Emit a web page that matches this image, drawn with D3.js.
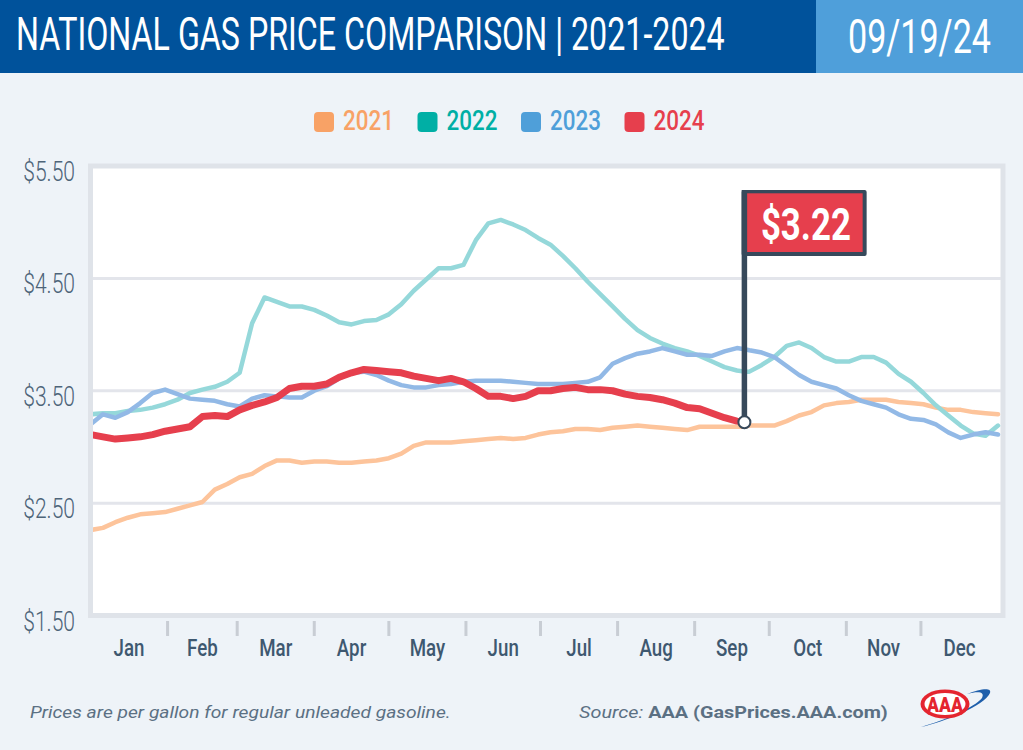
<!DOCTYPE html>
<html><head><meta charset="utf-8">
<script src="https://cdn.jsdelivr.net/npm/d3@7"></script>
<style>body{margin:0;background:#eef3f8;} svg{display:block}</style>
</head><body><svg id="chart" width="1023" height="750"></svg>
<script>
// ---- data ----
const days = [0,5,10,15,20,25,30,35,40,45,50,55,60,65,70,75,80,85,90,95,100,105,110,115,120,125,130,135,140,145,150,155,160,165,170,175,180,185,190,195,200,205,210,215,220,225,230,235,240,245,250,255,260,263,265,270,275,280,285,290,295,300,305,310,315,320,325,330,335,340,345,350,355,360,365];
const prices2021 = [2.26,2.28,2.33,2.37,2.40,2.41,2.42,2.45,2.48,2.51,2.62,2.67,2.73,2.76,2.83,2.88,2.88,2.86,2.87,2.87,2.86,2.86,2.87,2.88,2.90,2.94,3.01,3.04,3.04,3.04,3.05,3.06,3.07,3.08,3.07,3.08,3.11,3.13,3.14,3.16,3.16,3.15,3.17,3.18,3.19,3.18,3.17,3.16,3.15,3.18,3.18,3.18,3.18,3.18,3.19,3.19,3.19,3.23,3.28,3.31,3.37,3.39,3.40,3.42,3.42,3.42,3.40,3.39,3.38,3.35,3.33,3.33,3.31,3.30,3.29];
const prices2022 = [3.29,3.30,3.30,3.32,3.33,3.35,3.38,3.42,3.48,3.51,3.535,3.58,3.66,4.10,4.33,4.29,4.25,4.25,4.22,4.17,4.11,4.09,4.12,4.13,4.18,4.27,4.39,4.49,4.59,4.59,4.62,4.84,4.99,5.02,4.98,4.93,4.86,4.80,4.70,4.59,4.47,4.36,4.25,4.14,4.04,3.97,3.92,3.88,3.85,3.81,3.76,3.71,3.68,3.67,3.67,3.73,3.80,3.90,3.93,3.88,3.80,3.76,3.76,3.80,3.80,3.75,3.65,3.58,3.48,3.37,3.28,3.19,3.12,3.10,3.19];
const prices2023 = [3.20,3.29,3.26,3.31,3.39,3.48,3.51,3.47,3.43,3.42,3.41,3.38,3.36,3.43,3.46,3.45,3.44,3.44,3.50,3.54,3.61,3.66,3.67,3.64,3.59,3.55,3.53,3.53,3.55,3.56,3.58,3.59,3.59,3.59,3.58,3.57,3.56,3.56,3.56,3.57,3.58,3.62,3.74,3.79,3.83,3.85,3.88,3.85,3.82,3.82,3.81,3.85,3.88,3.87,3.86,3.84,3.80,3.72,3.64,3.58,3.55,3.52,3.46,3.41,3.38,3.35,3.29,3.25,3.24,3.20,3.13,3.08,3.11,3.13,3.11];
const prices2024 = [3.11,3.09,3.07,3.08,3.09,3.11,3.14,3.16,3.18,3.27,3.28,3.27,3.33,3.37,3.40,3.44,3.52,3.54,3.54,3.56,3.62,3.66,3.69,3.68,3.67,3.66,3.63,3.61,3.59,3.61,3.58,3.52,3.45,3.45,3.43,3.45,3.50,3.50,3.52,3.53,3.51,3.51,3.50,3.47,3.45,3.44,3.42,3.39,3.35,3.34,3.30,3.26,3.23,3.22,null,null,null,null,null,null,null,null,null,null,null,null,null,null,null,null,null,null,null,null,null];
const years = ["2021","2022","2023","2024"];
const yTicks = [1.5,2.5,3.5,4.5,5.5];
const yTickLabels = ["$1.50","$2.50","$3.50","$4.50","$5.50"];
const monthNames = ["Jan","Feb","Mar","Apr","May","Jun","Jul","Aug","Sep","Oct","Nov","Dec"];
const monthStarts = [0,31,59,90,120,151,181,212,243,273,304,334,365];
const latestDay = 263;
const latestPrice = 3.22;
const latestLabel = "$3.22";
const titleText = "NATIONAL GAS PRICE COMPARISON | 2021-2024";
const dateText = "09/19/24";

// ---- styles ----
const lineColors = ["#fdc49b","#95d8da","#92b9e6","#e63f4d"];
const legendColors = ["#f8a266","#00afa5","#4f9fd9","#e63f4d"];
const lineWidths = [4.5,4.5,4.5,7];
const font = "Roboto, 'Open Sans', sans-serif";

const svg = d3.select("#chart");
const x = d3.scaleLinear().domain([0,365]).range([90.5,998]);
const y = d3.scaleLinear().domain([1.5,5.5]).range([615.5,166]);

// text squeezed horizontally to a target width via transform (condensed look)
function fitText(parent, str, tx, ty, width, attrs){
  const t = parent.append("text").attr("x",0).attr("y",0).attr("font-family",font);
  Object.entries(attrs||{}).forEach(([k,v])=>t.attr(k,v));
  if (typeof str === "function") str(t); else t.text(str);
  const w = t.node().getComputedTextLength();
  t.attr("transform",`translate(${tx},${ty}) scale(${width/w},1)`);
  return t;
}

svg.append("rect").attr("width",1023).attr("height",750).attr("fill","#eef3f8");

// header
svg.append("rect").attr("x",0).attr("y",0).attr("width",1023).attr("height",73).attr("fill","#00529b");
svg.append("rect").attr("x",816).attr("y",0).attr("width",207).attr("height",73).attr("fill","#4f9fda");
fitText(svg, titleText, 16, 50, 709, {"font-size":46,"font-weight":400,"fill":"#fff"});
fitText(svg, dateText, 848, 53, 143, {"font-size":49,"font-weight":400,"fill":"#fff"});

// legend
const lg = svg.append("g");
years.forEach((yr,i)=>{
  const lx = 314 + i*103.5;
  lg.append("rect").attr("x",lx).attr("y",112).attr("width",20).attr("height",20).attr("rx",4).attr("fill",legendColors[i]);
  fitText(lg, yr, lx+29, 130, 51, {"font-size":28,"font-weight":500,"fill":legendColors[i]});
});

// plot frame
svg.append("rect").attr("x",90.5).attr("y",y(5.5)).attr("width",912.5).attr("height",y(1.5)-y(5.5))
  .attr("fill","#fff").attr("stroke","#dfe3e9").attr("stroke-width",5);

// gridlines
svg.append("g").selectAll("line").data(yTicks.slice(1,-1)).join("line")
  .attr("x1",93).attr("x2",1001).attr("y1",d=>y(d)).attr("y2",d=>y(d))
  .attr("stroke","#e3e5eb").attr("stroke-width",3);

// y labels
svg.append("g").selectAll("text").data(yTicks).join("text")
  .attr("transform",d=>`translate(75,${y(d)+15}) scale(0.78,1)`)
  .attr("text-anchor","end").attr("font-family",font).attr("font-size",27).attr("font-weight",300)
  .attr("fill","#4d6478").text((d,i)=>yTickLabels[i]);

// x ticks
svg.append("g").selectAll("line").data(monthStarts.slice(1,-1)).join("line")
  .attr("x1",d=>x(d)).attr("x2",d=>x(d)).attr("y1",621).attr("y2",636)
  .attr("stroke","#c8cdd4").attr("stroke-width",3);
svg.append("g").selectAll("text").data(monthNames).join("text")
  .attr("transform",(d,i)=>`translate(${x((monthStarts[i]+monthStarts[i+1])/2)},656) scale(0.78,1)`)
  .attr("text-anchor","middle").attr("font-family",font).attr("font-size",24).attr("font-weight",500)
  .attr("fill","#3e5870").text(d=>d);

// lines
svg.append("clipPath").attr("id","clip").append("rect").attr("x",93).attr("y",168).attr("width",908).attr("height",445);
const seriesData = [prices2021,prices2022,prices2023,prices2024];
const line = d3.line().defined(d=>d.v!=null).x(d=>x(d.day)).y(d=>y(d.v));
const lineG = svg.append("g").attr("clip-path","url(#clip)");
seriesData.forEach((arr,i)=>{
  const pts = days.map((d,j)=>({day:d,v:arr[j]}));
  lineG.append("path").datum(pts).attr("d",line).attr("fill","none")
    .attr("stroke",lineColors[i]).attr("stroke-width",lineWidths[i])
    .attr("stroke-linejoin","round").attr("stroke-linecap","round");
});

// flag
const px = x(latestDay), py = y(latestPrice);
const flag = svg.append("g");
flag.append("rect").attr("x",px-2.75).attr("y",190).attr("width",5.5).attr("height",py-190).attr("fill","#37495b");
flag.append("rect").attr("x",px-2.75).attr("y",190).attr("width",125).attr("height",66).attr("rx",2).attr("fill","#37495b");
flag.append("rect").attr("x",px+2.75).attr("y",193.3).attr("width",115.5).attr("height",58.7).attr("fill","#e63f4d");
fitText(flag, latestLabel, px+16.5, 240, 90, {"font-size":45,"font-weight":700,"fill":"#fff"});
flag.append("circle").attr("cx",px).attr("cy",py).attr("r",6).attr("fill","#fff").attr("stroke","#37495b").attr("stroke-width",2);

// footer
fitText(svg, "Prices are per gallon for regular unleaded gasoline.", 30, 718, 421,
  {"font-size":17,"font-style":"italic","fill":"#5b7083"});
fitText(svg, t=>{
  t.append("tspan").attr("font-style","italic").text("Source: ");
  t.append("tspan").attr("font-weight",700).text("AAA (GasPrices.AAA.com)");
}, 579, 718, 309, {"font-size":17,"fill":"#5b7083"});

// AAA logo
const logo = svg.append("g");
logo.append("path").attr("d","M921,727 C945,722 985,705 990,693 C992,687 980,689 967,694 C979,691 985,692 982,698 C975,707 946,720 921,727 Z")
  .attr("fill","#1f5fab");
logo.append("ellipse").attr("cx",945).attr("cy",704).attr("rx",24.5).attr("ry",14.5).attr("fill","#e4252f");
logo.append("ellipse").attr("cx",945).attr("cy",704).attr("rx",20.5).attr("ry",11).attr("fill","#fff");
fitText(logo, "AAA", 927, 712, 36, {"font-size":20,"font-weight":900,"fill":"#e4252f"});
</script></body></html>
